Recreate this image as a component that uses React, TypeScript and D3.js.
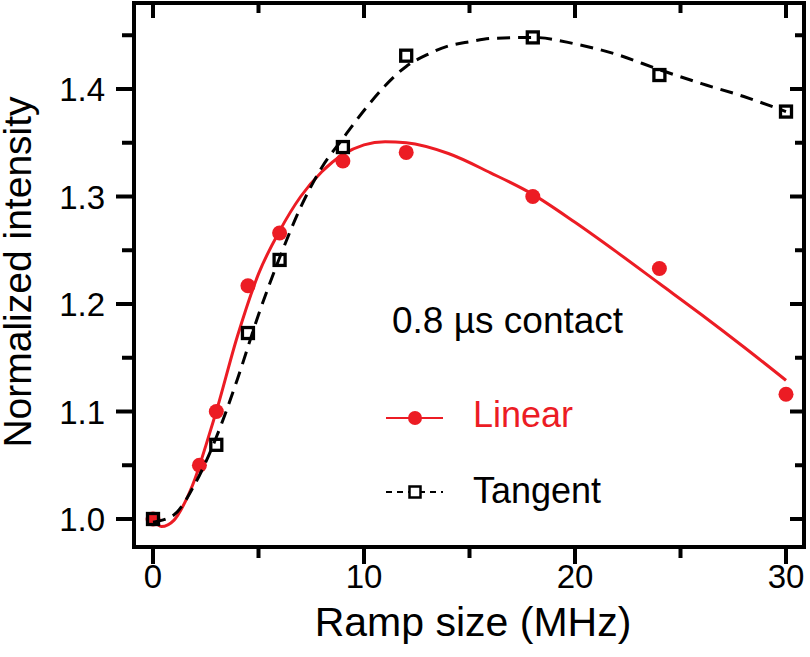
import React from "react";
import * as d3 from "d3";

// Measured data (Ramp size in MHz, normalized intensity)
const linearX = [0, 2.2, 3, 4.5, 6, 9, 12, 18, 24, 30];
const linearY = [1.0, 1.05, 1.1, 1.217, 1.266, 1.333, 1.341, 1.3, 1.233, 1.116];
const tangentX = [0, 3, 4.5, 6, 9, 12, 18, 24, 30];
const tangentY = [1.0, 1.069, 1.173, 1.241, 1.346, 1.431, 1.448, 1.413, 1.379];

// Fit curves
const linearFitX = [0, 0.4, 1, 1.5, 2, 2.5, 3, 4, 5, 6, 7, 8, 9, 10, 11, 12, 14, 16, 18, 20, 22, 24, 26, 28, 30];
const linearFitY = [0.999, 0.993, 0.999, 1.015, 1.038, 1.068, 1.1, 1.17, 1.228, 1.268, 1.3, 1.323, 1.339, 1.348, 1.351, 1.35, 1.34, 1.322, 1.302, 1.276, 1.248, 1.219, 1.19, 1.16, 1.129];
const tangentFitX = [0, 1, 2, 3, 4, 5, 6, 7, 8, 9, 10, 11, 12, 13, 14, 15, 16, 18, 20, 22, 24, 26, 28, 30];
const tangentFitY = [0.997, 1.004, 1.033, 1.076, 1.13, 1.19, 1.243, 1.29, 1.327, 1.354, 1.38, 1.403, 1.421, 1.432, 1.44, 1.444, 1.447, 1.448, 1.442, 1.432, 1.418, 1.405, 1.393, 1.379];

const xMajor = [0, 10, 20, 30];
const xMinor = [5, 15, 25];
const yMajor = [1.0, 1.1, 1.2, 1.3, 1.4];
const yMinor = [1.05, 1.15, 1.25, 1.35, 1.45];

const RED = "#ec1c24";
const FONT = "'Liberation Sans', Arial, Helvetica, sans-serif";

export default function App() {
  const W = 810, H = 657;
  const x = d3.scaleLinear().domain([0, 30]).range([153, 786]);
  const y = d3.scaleLinear().domain([1.0, 1.4]).range([519, 89]);
  const left = 134, right = 804, top = 3, bottom = 547;

  const line = d3.line<[number, number]>()
    .x((d) => x(d[0]))
    .y((d) => y(d[1]))
    .curve(d3.curveMonotoneX);

  const linFit = linearFitX.map((v, i) => [v, linearFitY[i]] as [number, number]);
  const tanFit = tangentFitX.map((v, i) => [v, tangentFitY[i]] as [number, number]);
  const sq = 11;

  return (
    <svg width={W} height={H} style={{ position: "absolute", left: 0, top: 0 }} fontFamily={FONT}>
      <rect width={W} height={H} fill="white" />
      {/* fit curves */}
      <path d={line(linFit) || ""} fill="none" stroke={RED} strokeWidth={3} />
      {linearX.map((v, i) => (
        <circle key={"c" + i} cx={x(v)} cy={y(linearY[i])} r={7.5} fill={RED} />
      ))}
      <path d={line(tanFit) || ""} fill="none" stroke="black" strokeWidth={3} strokeDasharray="13 8" />
      {tangentX.map((v, i) => (
        <rect key={"s" + i} x={x(v) - sq / 2} y={y(tangentY[i]) - sq / 2} width={sq} height={sq}
          fill="none" stroke="black" strokeWidth={3.3} />
      ))}

      {/* frame */}
      <rect x={left} y={top} width={right - left} height={bottom - top} fill="none" stroke="black" strokeWidth={4} />
      {/* x ticks */}
      {xMajor.map((v) => (
        <g key={"xm" + v}>
          <line x1={x(v)} x2={x(v)} y1={bottom} y2={bottom + 17} stroke="black" strokeWidth={4} />
          <line x1={x(v)} x2={x(v)} y1={top} y2={top + 15} stroke="black" strokeWidth={4} />
          <text x={x(v)} y={588} fontSize={33} textAnchor="middle">{v}</text>
        </g>
      ))}
      {xMinor.map((v) => (
        <g key={"xn" + v}>
          <line x1={x(v)} x2={x(v)} y1={bottom} y2={bottom + 11} stroke="black" strokeWidth={4} />
          <line x1={x(v)} x2={x(v)} y1={top} y2={top + 10} stroke="black" strokeWidth={4} />
        </g>
      ))}
      {/* y ticks */}
      {yMajor.map((v) => (
        <g key={"ym" + v}>
          <line x1={left} x2={left - 18} y1={y(v)} y2={y(v)} stroke="black" strokeWidth={4} />
          <line x1={right} x2={right - 14} y1={y(v)} y2={y(v)} stroke="black" strokeWidth={4} />
          <text x={105} y={y(v) + 12} fontSize={33} textAnchor="end">{v.toFixed(1)}</text>
        </g>
      ))}
      {yMinor.map((v) => (
        <g key={"yn" + v}>
          <line x1={left} x2={left - 12} y1={y(v)} y2={y(v)} stroke="black" strokeWidth={4} />
          <line x1={right} x2={right - 9} y1={y(v)} y2={y(v)} stroke="black" strokeWidth={4} />
        </g>
      ))}

      {/* axis titles */}
      <text x={473} y={636} fontSize={41} textAnchor="middle">Ramp size (MHz)</text>
      <text transform="translate(31,272) rotate(-90)" fontSize={39} textAnchor="middle">Normalized intensity</text>

      {/* annotations / legend */}
      <text x={392} y={333} fontSize={37}>0.8 µs contact</text>
      <line x1={386} x2={443} y1={418} y2={418} stroke={RED} strokeWidth={2} />
      <circle cx={415} cy={418} r={7} fill={RED} />
      <text x={473} y={427} fontSize={36} fill={RED}>Linear</text>
      <line x1={386} x2={443} y1={492} y2={492} stroke="black" strokeWidth={2} strokeDasharray="6 5" />
      <rect x={409.5} y={486.5} width={11} height={11} fill="white" stroke="black" strokeWidth={2.5} />
      <text x={473} y={503} fontSize={36}>Tangent</text>
    </svg>
  );
}
